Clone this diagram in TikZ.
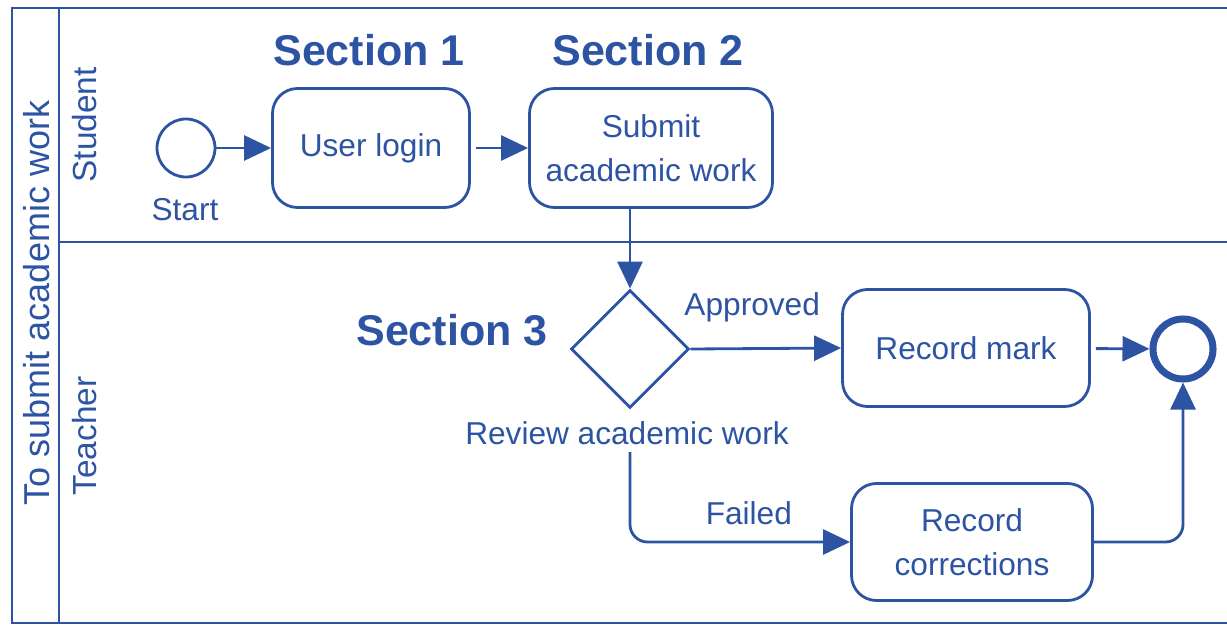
\documentclass[tikz,border=0pt]{standalone}
\usepackage{fontspec}
\setmainfont{Liberation Sans}
\usetikzlibrary{shapes.geometric,arrows.meta}
\definecolor{bpmnblue}{RGB}{45,84,163}
\begin{document}
\begin{tikzpicture}[color=bpmnblue,line width=1.6pt]
      % Define styles for nodes
      \tikzstyle{task} = [draw, rectangle, rounded corners=0.5cm,
      minimum width=3.94cm, minimum height=2.38cm, align=center,
      font=\fontsize{18}{25}\selectfont]
      \tikzstyle{gateway} = [draw, diamond, inner sep=0pt,
      minimum width=2.36cm, minimum height=2.36cm]
      \tikzstyle{event} = [draw, circle, inner sep=0pt, minimum size=1.16cm]
      \tikzstyle{label} = [font=\fontsize{18}{22}\selectfont]
      \tikzstyle{lane} = [rotate=90, font=\fontsize{19}{22}\selectfont]
      \tikzstyle{section} = [font=\fontsize{24.5}{28}\selectfont\bfseries]
      \tikzstyle{flow} = [-{Triangle[length=0.54cm,width=0.5cm]}]

      \useasboundingbox (0,0) rectangle (24.54,12.52);

      % Pool and lanes
      \draw (0.24,0.06) rectangle (24.8,12.36);
      \draw (1.18,0.06) -- (1.18,12.36);
      \draw (1.18,7.68) -- (24.8,7.68);
      \node[lane, font=\fontsize{20.5}{24}\selectfont] (pool) at (0.74,6.46)
      {To submit academic work};
      \node[lane] (student) at (1.7,10.02) {Student};
      \node[lane] (teacher) at (1.7,3.8) {Teacher};

      % Sections
      \node[section] (sec1) at (7.38,11.52) {Section 1};
      \node[section] (sec2) at (12.96,11.52) {Section 2};
      \node[section] (sec3) at (9.04,5.92) {Section 3};

      % Student lane
      \node[event] (start) at (3.72,9.56) {};
      \node[label] (startlabel) at (3.7,8.32) {Start};
      \node[task] (login) at (7.42,9.56) {User login};
      \node[task, minimum width=4.86cm] (submit) at (13.02,9.56)
      {Submit\\academic work};

      % Teacher lane
      \node[gateway] (review) at (12.6,5.54) {};
      \node[label] (reviewlabel) at (12.54,3.86) {Review academic work};
      \node[task, minimum width=4.94cm, minimum height=2.34cm] (mark)
      at (19.32,5.56) {Record mark};
      \node[task, minimum width=4.82cm, minimum height=2.34cm] (corr)
      at (19.44,1.68) {Record\\corrections};
      \node[event, line width=4pt, minimum size=1.2cm] (end) at (23.66,5.54) {};
      \coordinate (failstart) at (12.6,3.48);

      % Connections
      \draw[flow] (start) -- (login);
      \draw[flow, shorten <=0.1cm] (login) -- (submit);
      \draw[flow] (review.north |- submit.south) -- (review.north);
      \draw[flow] (review.east) -- node[label, pos=0.41, above=0.38cm]
      (approved) {Approved} (mark.west);
      \draw[flow, shorten <=0.1cm] (mark) -- (end);
      \draw[flow, rounded corners=0.35cm] (failstart) |- node[label,
      pos=0.77, above=0.2cm] (failed) {Failed} (corr.west);
      \draw[flow, rounded corners=0.35cm] (corr.east) -| (end.south);
    \end{tikzpicture}
\end{document}
